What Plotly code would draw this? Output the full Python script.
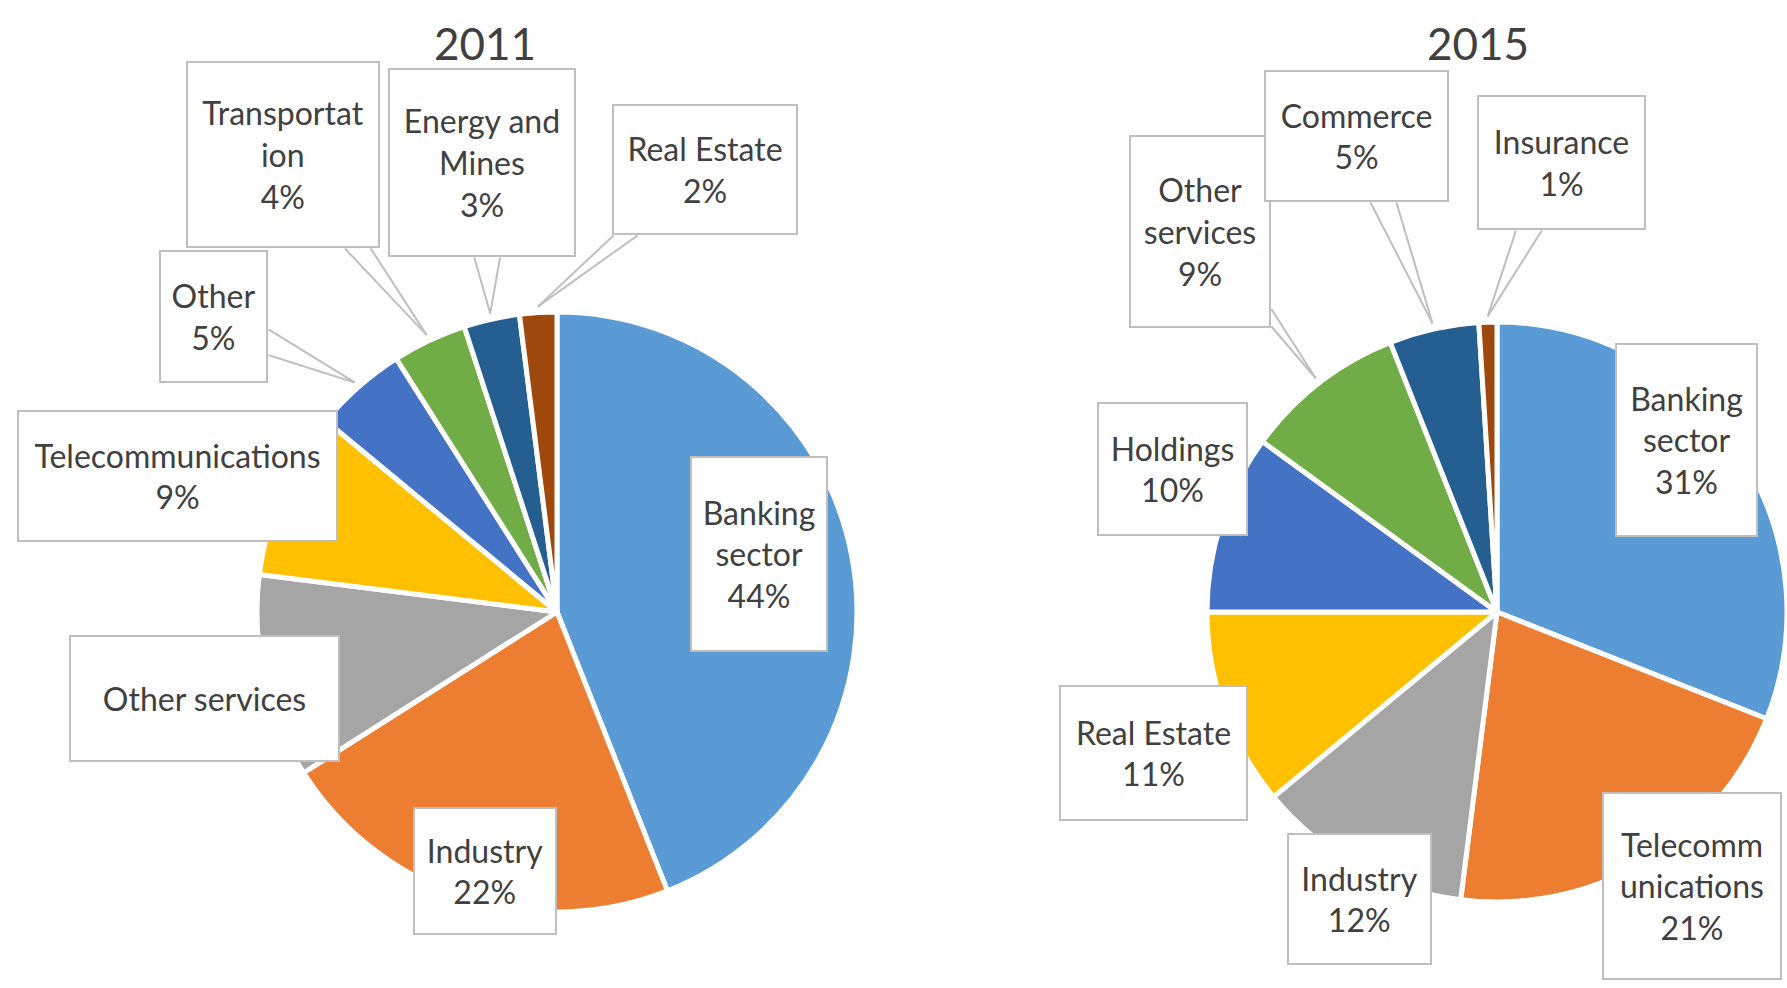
import math
import plotly.graph_objects as go

# ---------------- data ----------------
sectors_2011 = ["Banking sector", "Industry", "Other services", "Telecommunications",
                "Other", "Transportation", "Energy and Mines", "Real Estate"]
values_2011 = [44, 22, 11, 9, 5, 4, 3, 2]
labels_2011 = ["Banking<br>sector", "Industry", "Other services", "Telecommunications",
               "Other", "Transportat<br>ion", "Energy and<br>Mines", "Real Estate"]
showpct_2011 = [True, True, False, True, True, True, True, True]

sectors_2015 = ["Banking sector", "Telecommunications", "Industry", "Real Estate",
                "Holdings", "Other services", "Commerce", "Insurance"]
values_2015 = [31, 21, 12, 11, 10, 9, 5, 1]
labels_2015 = ["Banking<br>sector", "Telecomm<br>unications", "Industry", "Real Estate",
               "Holdings", "Other<br>services", "Commerce", "Insurance"]
showpct_2015 = [True, True, True, True, True, True, True, True]

colors = ["#5B9BD5", "#ED7D31", "#A5A5A5", "#FFC000",
          "#4472C4", "#70AD47", "#255E91", "#9E480E"]

# ---------------- layout geometry (pixels) ----------------
W, H = 1787, 988
def px(x):
    return x / W
def py(y):
    return 1 - y / H

LC, LR = (557, 612), 300
RC, RR = (1497, 612), 290

# label boxes: (x0, x1, y0, y1, arrow)
boxes_2011 = [
    (690, 828, 456, 652, False),
    (413, 557, 807, 935, False),
    (69, 340, 635, 762, False),
    (17, 338, 410, 542, False),
    (159, 268, 250, 383, True),
    (186, 380, 61, 248, True),
    (388, 576, 68, 257, True),
    (612, 798, 104, 235, True),
]
boxes_2015 = [
    (1615, 1758, 343, 537, False),
    (1602, 1782, 792, 980, False),
    (1287, 1432, 833, 965, False),
    (1059, 1248, 685, 821, True),
    (1097, 1248, 402, 536, True),
    (1129, 1271, 135, 328, True),
    (1264, 1449, 70, 202, True),
    (1477, 1646, 95, 230, True),
]

FONT = "Lato, 'Open Sans', sans-serif"
TXT = "#404040"
BORDER = "#BFBFBF"

fig = go.Figure()

def add_pie(names, vals, center, r):
    cx, cy = center
    fig.add_trace(go.Pie(
        labels=names, values=vals, sort=False, direction="clockwise", rotation=0,
        marker=dict(colors=colors, line=dict(color="white", width=5)),
        textinfo="none", showlegend=False,
        domain=dict(x=[px(cx - r), px(cx + r)], y=[py(cy + r), py(cy - r)]),
    ))

add_pie(sectors_2011, values_2011, LC, LR)
add_pie(sectors_2015, values_2015, RC, RR)

lines = []
boxes = []

def add_labels(labels, vals, showpct, bxs, center, r):
    cx, cy = center
    total = sum(vals)
    cum = 0
    for lab, v, sp, (x0, x1, y0, y1, arrow) in zip(labels, vals, showpct, bxs):
        mid = (cum + v / 2) / total * 2 * math.pi
        cum += v
        text = lab + (f"<br>{v}%" if sp else "")
        bcx, bcy = (x0 + x1) / 2, (y0 + y1) / 2
        hw, hh = (x1 - x0) / 2, (y1 - y0) / 2
        boxes.append(dict(text=text, xref="paper", yref="paper",
                          x=px(bcx), y=py(bcy), xanchor="center", yanchor="middle",
                          showarrow=False,
                          font=dict(family=FONT, size=32, color=TXT),
                          bgcolor="white", bordercolor=BORDER, borderwidth=2, borderpad=0,
                          width=x1 - x0 - 4, height=y1 - y0 - 4,
                          align="center", valign="middle"))
        if arrow:
            tx = cx + r * 1.02 * math.sin(mid)
            ty = cy - r * 1.02 * math.cos(mid)
            dx, dy = tx - bcx, ty - bcy
            tv = hw / abs(dx) if dx else 1e9
            th = hh / abs(dy) if dy else 1e9
            t = min(tv, th)
            ex, ey = bcx + t * dx, bcy + t * dy
            s = 13
            if tv < th:
                pts = [(ex, min(max(ey - s, y0 + 2), y1 - 2)), (ex, min(max(ey + s, y0 + 2), y1 - 2))]
            else:
                pts = [(min(max(ex - s, x0 + 2), x1 - 2), ey), (min(max(ex + s, x0 + 2), x1 - 2), ey)]
            for (bx, by) in pts:
                lines.append(dict(text="", xref="paper", yref="paper",
                                  x=px(tx), y=py(ty), ax=bx - tx, ay=by - ty,
                                  showarrow=True, arrowhead=0, arrowwidth=2,
                                  arrowcolor=BORDER, borderpad=0, standoff=0, startstandoff=0))

add_labels(labels_2011, values_2011, showpct_2011, boxes_2011, LC, LR)
add_labels(labels_2015, values_2015, showpct_2015, boxes_2015, RC, RR)

titles = [
    dict(text="2011", x=px(485), y=py(43), xref="paper", yref="paper",
         showarrow=False, xanchor="center", yanchor="middle",
         font=dict(family=FONT, size=44, color=TXT)),
    dict(text="2015", x=px(1478), y=py(43), xref="paper", yref="paper",
         showarrow=False, xanchor="center", yanchor="middle",
         font=dict(family=FONT, size=44, color=TXT)),
]

fig.update_layout(width=W, height=H, margin=dict(l=0, r=0, t=0, b=0),
                  paper_bgcolor="white", plot_bgcolor="white",
                  annotations=lines + boxes + titles)

fig.write_html("out.html", config={"displayModeBar": False},
               post_script="document.body.style.margin='0px';")
